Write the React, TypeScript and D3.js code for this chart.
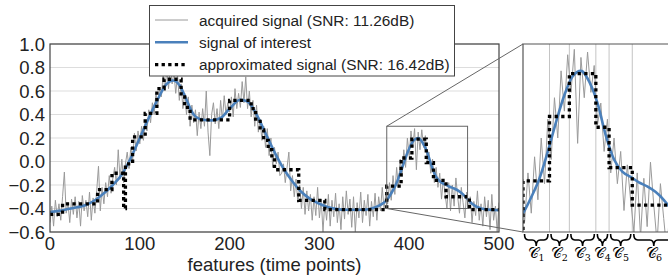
import React from 'react';
import * as d3 from 'd3';

// acquired (noisy) signal, one value every 2 features, 0..500
const acquired = [
  -0.52, -0.38, -0.55, -0.33, -0.47, -0.36, -0.50, -0.30, -0.09, -0.44,
  -0.35, -0.52, -0.32, -0.45, -0.30, -0.48, -0.34, -0.55, -0.29, -0.42,
  -0.33, -0.47, -0.26, -0.50, -0.31, -0.44, -0.25, -0.04, -0.42, -0.22,
  -0.36, -0.18, -0.30, -0.12, -0.27, -0.14, -0.05, -0.20, 0.10, -0.15,
  0.02, -0.18, -0.02, 0.08, -0.06, 0.12, 0.00, 0.24, 0.09, 0.26,
  0.15, 0.30, 0.18, 0.35, 0.26, 0.44, 0.33, 0.50, 0.40, 0.58,
  0.47, 0.62, 0.55, 0.75, 0.60, 0.78, 0.62, 0.82, 0.66, 0.76,
  0.58, 0.74, 0.52, 0.66, 0.45, 0.58, 0.40, 0.55, 0.30, 0.48,
  0.33, 0.44, 0.22, 0.42, 0.28, 0.45, 0.30, 0.60, 0.25, 0.05,
  0.40, 0.50, 0.32, 0.45, 0.28, 0.52, 0.35, 0.56, 0.40, 0.50,
  0.42, 0.55, 0.38, 0.62, 0.45, 0.58, 0.46, 0.68, 0.50, 0.72,
  0.45, 0.60, 0.38, 0.52, 0.30, 0.48, 0.25, 0.36, 0.18, 0.30,
  0.12, 0.28, 0.05, 0.20, -0.05, 0.12, -0.02, 0.08, -0.12, -0.10,
  -0.02, -0.18, -0.05, 0.08, -0.25, -0.12, -0.30, -0.15, -0.35, -0.20,
  -0.40, -0.22, -0.45, -0.25, -0.42, -0.28, -0.50, -0.30, -0.46, -0.22,
  -0.48, -0.32, -0.60, -0.35, -0.50, -0.28, -0.55, -0.33, -0.47, -0.27,
  -0.52, -0.36, -0.58, -0.30, -0.49, -0.25, -0.45, -0.32, -0.56, -0.30,
  -0.60, -0.35, -0.48, -0.26, -0.52, -0.33, -0.46, -0.28, -0.55, -0.34,
  -0.47, -0.27, -0.50, -0.30, -0.42, -0.22, -0.40, -0.28, -0.36, -0.18,
  -0.33, -0.12, -0.28, -0.05, -0.22, 0.02, -0.13, 0.10, -0.05, 0.20,
  0.05, 0.26, 0.12, 0.28, -0.07, 0.25, 0.10, 0.27, 0.12, 0.22,
  0.00, 0.08, -0.10, 0.02, -0.18, -0.05, -0.22, -0.10, -0.32, -0.15,
  -0.28, -0.40, -0.18, -0.42, -0.20, -0.38, -0.14, -0.30, -0.44, -0.22,
  -0.35, -0.48, -0.26, -0.40, -0.30, -0.52, -0.34, -0.46, -0.25, -0.50,
  -0.36, -0.55, -0.30, -0.47, -0.33, -0.58, -0.28, -0.50, -0.38, -0.60,
  -0.35,
];

// signal of interest (smooth)
const signalFeatures = [
  0, 10, 20, 30, 40, 50, 60, 70, 80, 90, 100, 110, 120, 130, 137, 145, 150,
  160, 170, 180, 190, 200, 212, 220, 230, 240, 250, 260, 270, 280, 290, 300,
  310, 320, 330, 340, 350, 360, 370, 375, 380, 385, 390, 395, 400, 405, 410,
  415, 420, 425, 430, 435, 440, 445, 450, 455, 460, 465, 470, 480, 490, 500,
];
const signalValues = [
  -0.43, -0.42, -0.405, -0.39, -0.37, -0.33, -0.27, -0.2, -0.11, 0.03, 0.2,
  0.37, 0.53, 0.66, 0.69, 0.64, 0.56, 0.4, 0.355, 0.35, 0.37, 0.45, 0.525,
  0.51, 0.4, 0.24, 0.08, -0.06, -0.17, -0.26, -0.32, -0.36, -0.39, -0.405,
  -0.41, -0.41, -0.41, -0.395, -0.36, -0.33, -0.27, -0.2, -0.1, 0.01, 0.11,
  0.18, 0.2, 0.16, 0.08, -0.04, -0.13, -0.175, -0.195, -0.215, -0.23, -0.25,
  -0.28, -0.32, -0.36, -0.4, -0.41, -0.415,
];

// approximated signal: piecewise constant per cluster
const clusterStarts = [
  0, 14, 53, 69, 82, 84, 92, 106, 119, 127, 146, 150, 156, 200, 224, 229, 234,
  238, 243, 247, 250, 277, 306, 375, 391, 403, 419, 427, 441, 467,
];
const clusterValues = [
  -0.45, -0.36, -0.24, -0.1, -0.4, -0.02, 0.21, 0.41, 0.62, 0.7, 0.55, 0.46,
  0.355, 0.52, 0.45, 0.36, 0.27, 0.18, 0.1, 0.03, -0.07, -0.33, -0.41, -0.21,
  0.03, 0.19, -0.01, -0.16, -0.3, -0.41,
];

const yTicks = [-0.6, -0.4, -0.2, 0.0, 0.2, 0.4, 0.6, 0.8, 1.0];
const xTicks = [0, 100, 200, 300, 400, 500];
const insetClusters = [375, 391, 403, 419, 427, 441, 467];
const clusterNames = ['1', '2', '3', '4', '5', '6'];
const legendLabels = [
  'acquired signal (SNR: 11.26dB)',
  'signal of interest',
  'approximated signal (SNR: 16.42dB)',
];

const FONT = '"Liberation Sans", Arial, Helvetica, sans-serif';
const GRAY = '#9a9a9a';
const BLUE = '#4a80bb';

export default function App() {
  const x = d3.scaleLinear().domain([0, 500]).range([50, 499]);
  const y = d3.scaleLinear().domain([-0.6, 1.0]).range([232, 44]);
  const xi = d3.scaleLinear().domain([375, 465]).range([523, 672]);
  const yi = d3.scaleLinear().domain([-0.4, 0.3]).range([232, 44]);
  const fmt = d3.format('.1f');

  const acq: [number, number][] = acquired.map((v, i) => [i * 2, v]);
  const sig: [number, number][] = signalFeatures.map((f, i) => [f, signalValues[i]]);
  const approx: [number, number][] = clusterStarts.map((s, i) => [s, clusterValues[i]]);
  approx.push([500, clusterValues[clusterValues.length - 1]]);

  const mk = (sx, sy, curve) =>
    d3.line<[number, number]>().x(d => sx(d[0])).y(d => sy(d[1])).curve(curve);

  const dots = { stroke: '#000', strokeWidth: 3.3, strokeDasharray: '3.3 3.3', fill: 'none' };

  // brace under the inset between two cluster bounds
  const brace = (a: number, b: number) => {
    const x1 = xi(a) + 1.5, x2 = xi(b) - 1.5, xm = (x1 + x2) / 2;
    const y0 = 234, y1 = 240, y2 = 246, r = 4;
    return `M${x1},${y0} Q${x1},${y1} ${x1 + r},${y1} L${xm - r},${y1} Q${xm},${y1} ${xm},${y2} ` +
      `Q${xm},${y1} ${xm + r},${y1} L${x2 - r},${y1} Q${x2},${y1} ${x2},${y0}`;
  };

  return (
    <svg width={668} height={276} style={{ position: 'absolute', left: 0, top: 0, background: '#fff' }}
      fontFamily={FONT}>
      <defs>
        <clipPath id="mainClip"><rect x={50} y={44} width={449} height={188} /></clipPath>
        <clipPath id="insetClip"><rect x={523} y={44} width={149} height={188} /></clipPath>
      </defs>

      {/* grid */}
      {yTicks.map(t => (
        <line key={t} x1={50} x2={499} y1={y(t)} y2={y(t)} stroke="#dddddd" strokeWidth={1} />
      ))}

      <g clipPath="url(#mainClip)">
        <path d={mk(x, y, d3.curveLinear)(acq)!} fill="none" stroke={GRAY} strokeWidth={1} />
        <path d={mk(x, y, d3.curveMonotoneX)(sig)!} fill="none" stroke={BLUE} strokeWidth={2.6} />
        <path d={mk(x, y, d3.curveStepAfter)(approx)!} {...dots} />
      </g>

      <rect x={50} y={44} width={449} height={188} fill="none" stroke="#444" strokeWidth={1.2} />

      {/* zoom box + connectors */}
      <rect x={x(375)} y={y(0.3)} width={x(465) - x(375)} height={y(-0.4) - y(0.3)}
        fill="none" stroke="#666" strokeWidth={1} />
      <line x1={x(375)} y1={y(0.3)} x2={xi(375)} y2={yi(0.3)} stroke="#666" strokeWidth={1} />
      <line x1={x(375)} y1={y(-0.4)} x2={xi(375)} y2={yi(-0.4)} stroke="#666" strokeWidth={1} />

      {/* ticks */}
      {yTicks.map(t => (
        <text key={t} x={45} y={y(t) + 6.5} fontSize={18.5} textAnchor="end" fill="#222">{fmt(t)}</text>
      ))}
      {xTicks.map(t => (
        <text key={t} x={x(t)} y={250} fontSize={18.5} textAnchor="middle" fill="#222">{t}</text>
      ))}
      <text x={274.5} y={270.5} fontSize={18.5} textAnchor="middle" fill="#222">features (time points)</text>

      {/* inset */}
      <rect x={523} y={44} width={149} height={188} fill="#fff" />
      {insetClusters.slice(1, -1).map(c => (
        <line key={c} x1={xi(c)} x2={xi(c)} y1={44} y2={232} stroke="#c4c4c4" strokeWidth={1} />
      ))}
      <g clipPath="url(#insetClip)">
        <path d={mk(xi, yi, d3.curveLinear)(acq.filter(d => d[0] >= 370))!} fill="none" stroke={GRAY} strokeWidth={1} />
        <path d={mk(xi, yi, d3.curveMonotoneX)(sig.filter(d => d[0] >= 360))!} fill="none" stroke={BLUE} strokeWidth={2.6} />
        <path d={mk(xi, yi, d3.curveStepAfter)(approx.filter(d => d[0] >= 306))!} {...dots} />
      </g>
      <path d="M672,44 H523 V232 H672" fill="none" stroke="#555" strokeWidth={1.2} />

      {insetClusters.slice(0, -1).map((c, i) => (
        <g key={c}>
          <path d={brace(c, insetClusters[i + 1])} fill="none" stroke="#000" strokeWidth={1.6} />
          <text x={xi((c + insetClusters[i + 1]) / 2)} y={258} textAnchor="middle"
            fontFamily='"DejaVu Serif", "DejaVu Sans", serif' fill="#000">
            <tspan fontSize={14.5}>𝒞</tspan>
            <tspan fontSize={9.5} dy={3} dx={-0.5}>{clusterNames[i]}</tspan>
          </text>
        </g>
      ))}

      {/* legend */}
      <rect x={149.5} y={5.5} width={305} height={70.5} fill="#fff" stroke="#444" strokeWidth={1} />
      {legendLabels.map((l, i) => {
        const cy = 20 + i * 22.3;
        return (
          <g key={l}>
            {i === 0 && <line x1={155} x2={188} y1={cy} y2={cy} stroke={GRAY} strokeWidth={1} />}
            {i === 1 && <line x1={155} x2={188} y1={cy} y2={cy} stroke={BLUE} strokeWidth={2.6} />}
            {i === 2 && <line x1={155} x2={188} y1={cy} y2={cy} {...dots} />}
            <text x={199} y={cy + 5.5} fontSize={15.4} fill="#222">{l}</text>
          </g>
        );
      })}
    </svg>
  );
}
